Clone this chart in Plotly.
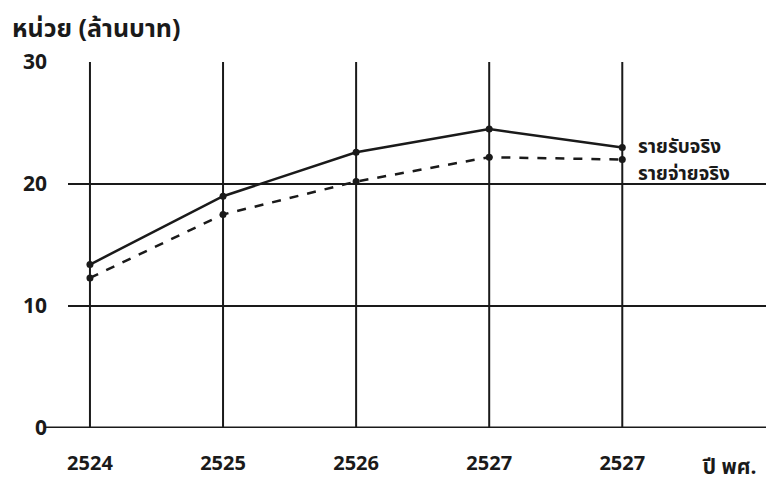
import plotly.graph_objects as go

years = ["2524", "2525", "2526", "2527", "2527"]
income = [13.4, 19.0, 22.6, 24.5, 23.0]
expense = [12.3, 17.5, 20.2, 22.2, 22.0]
y_ticks = [0, 10, 20, 30]

xs = list(range(len(years)))
FONT = "Noto Sans Thai, Loma, Garuda, Tlwg Typo, DejaVu Sans, sans-serif"
INK = "#1a1a1a"

fig = go.Figure()
# vertical grid lines at each year, from 0 to 30
for x in xs:
    fig.add_trace(go.Scatter(x=[x, x], y=[0, 30], mode="lines",
                             line=dict(color=INK, width=2), hoverinfo="skip", showlegend=False))

fig.add_trace(go.Scatter(x=xs, y=income, mode="lines+markers", name="รายรับจริง",
                         line=dict(color=INK, width=2.5),
                         marker=dict(color=INK, size=7), showlegend=False))
fig.add_trace(go.Scatter(x=xs, y=expense, mode="lines+markers", name="รายจ่ายจริง",
                         line=dict(color=INK, width=2.5, dash="dash"),
                         marker=dict(color=INK, size=7), showlegend=False))

fig.update_layout(
    width=766, height=478,
    margin=dict(l=60, r=4, t=54, b=58),
    paper_bgcolor="white", plot_bgcolor="white",
    font=dict(family=FONT, color=INK, size=17),
    xaxis=dict(range=[-0.165, 5.11], tickmode="array", tickvals=xs,
               ticktext=["<b>%s</b>" % y for y in years],
               showgrid=False, zeroline=False, showline=False, ticks="",
               automargin=False,
               ticklabelstandoff=21, tickfont=dict(size=20, color=INK)),
    yaxis=dict(range=[0, 30], tickmode="array", tickvals=y_ticks,
               ticktext=["<b>%d</b>" % v for v in y_ticks],
               showgrid=True, gridcolor=INK, gridwidth=2,
               zeroline=False,
               showline=False, ticks="", ticklabelstandoff=20,
               automargin=False,
               tickfont=dict(size=21, color=INK)),
    shapes=[
        dict(type="line", xref="paper", yref="y", x0=-0.033, x1=1.0, y0=0, y1=0,
             line=dict(color=INK, width=3)),
    ],
    annotations=[
        dict(text="<b>หน่วย (ล้านบาท)</b>", xref="paper", yref="paper",
             x=-0.083, y=1.09, xanchor="left", yanchor="middle", showarrow=False,
             font=dict(size=25)),
        dict(text="<b>รายรับจริง</b>", xref="x", yref="y", x=4.10, y=23.0,
             xanchor="left", yanchor="middle", showarrow=False, font=dict(size=19)),
        dict(text="<b>รายจ่ายจริง</b>", xref="x", yref="y", x=4.10, y=20.75,
             xanchor="left", yanchor="middle", showarrow=False, font=dict(size=19)),
        dict(text="<b>ปี พศ.</b>", xref="paper", yref="paper", x=0.9, y=-0.109,
             xanchor="left", yanchor="middle", showarrow=False, font=dict(size=21)),
    ],
)

fig.write_html("out.html")
